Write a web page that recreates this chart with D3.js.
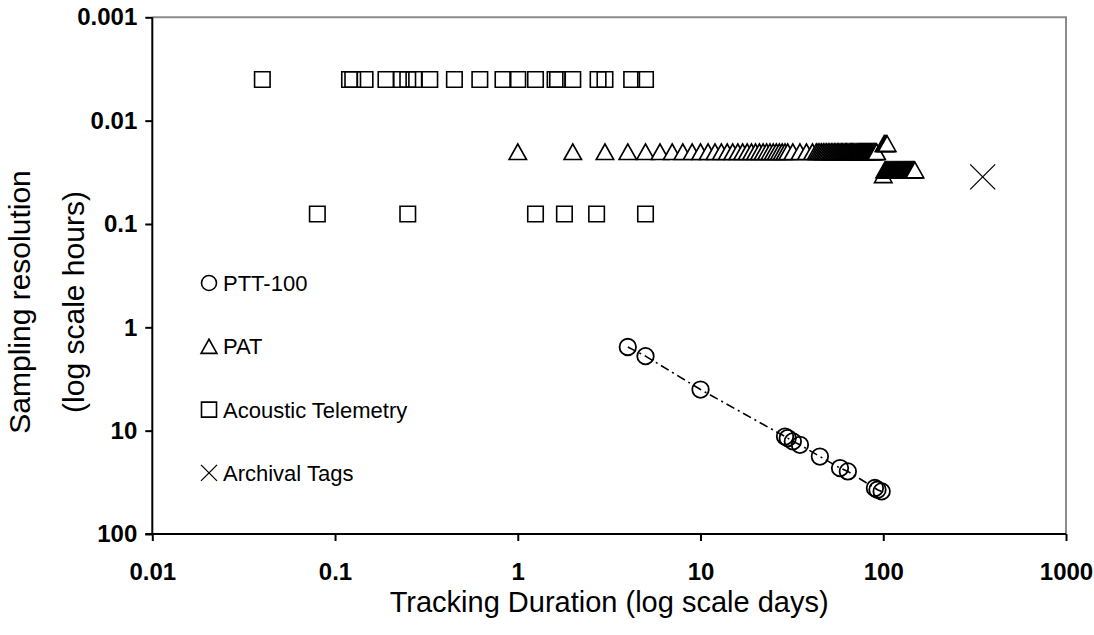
<!DOCTYPE html>
<html>
<head>
<meta charset="utf-8">
<script src="https://cdn.jsdelivr.net/npm/d3@7"></script>
<style>
  html, body { margin: 0; padding: 0; background: #fff; }
  svg { display: block; }
  text { font-family: "Liberation Sans", Arial, sans-serif; fill: #000; }
</style>
</head>
<body>
<svg id="chart" width="1094" height="635"></svg>
<script>
// Axis ticks
const durationTicks = [0.01, 0.1, 1, 10, 100, 1000];
const durationTickLabels = ["0.01", "0.1", "1", "10", "100", "1000"];
const resolutionTicks = [0.001, 0.01, 0.1, 1, 10, 100];
const resolutionTickLabels = ["0.001", "0.01", "0.1", "1", "10", "100"];

// PTT-100 satellite tags: duration (days) vs sampling resolution (hours)
const pttDays  = [4, 5, 10, 29, 30, 32, 35, 45, 58, 64, 90, 93, 98];
const pttHours = [1.55, 1.9, 4, 11.4, 11.8, 12.7, 13.7, 17.8, 23, 24.8, 35.9, 37.3, 38.7];

// PAT tags, one group per sampling interval
const patDaysA = [1, 2, 3, 4, 5, 6, 7, 8, 9, 10, 11, 12, 13, 14, 15, 16, 17, 18, 19, 20,
  21, 22, 23, 24, 25, 26, 27, 28, 29, 30, 32, 35, 38, 41, 43, 44, 45, 46, 47, 48, 49, 50,
  51, 52, 53, 54, 55, 56, 57, 58, 59, 60, 61, 62, 63, 64, 65, 66, 67, 68, 69, 70,
  71, 72, 73, 74, 75, 76, 77, 78, 79, 80, 81, 82, 83, 84, 85, 86, 87, 88, 89, 90, 91, 92];
const patHoursA = 0.02;
const patDaysB = [101, 102, 103, 104, 105];
const patHoursB = 0.0167;
const patDaysC = [100];
const patHoursC = 0.0335;
const patDaysD = [102, 103, 104, 105, 106, 107, 108, 109, 110, 111, 112, 113, 114, 115,
  116, 117, 118, 119, 120, 121, 122, 123, 124, 125, 126, 127, 128, 129, 130, 131, 132,
  133, 134, 135, 136, 137, 138, 139, 140, 141, 142, 143, 144, 145, 146, 147, 148, 149];
const patHoursD = 0.03;

// Acoustic telemetry
const acousticDaysFast = [0.04, 0.12, 0.125, 0.146, 0.19, 0.23, 0.25, 0.27, 0.33, 0.45,
  0.62, 0.83, 1, 1.25, 1.6, 1.65, 2, 2.75, 3, 4.2, 5];
const acousticHoursFast = 0.004;
const acousticDaysSlow = [0.08, 0.25, 1.25, 1.8, 2.7, 5];
const acousticHoursSlow = 0.08;

// Archival tags
const archivalDays = [350];
const archivalHours = [0.035];

// Legend
const legendNames = ["PTT-100", "PAT", "Acoustic Telemetry", "Archival Tags"];
const legendShapes = ["circle", "triangle", "square", "cross"];

const svg = d3.select("#chart");
svg.append("rect").attr("width", 1094).attr("height", 635).attr("fill", "#fff");

const plot = { left: 152.3, right: 1066, top: 17.3, bottom: 534 };
const x = d3.scaleLog().domain([0.01, 1000]).range([plot.left, plot.right]);
const y = d3.scaleLog().domain([0.001, 100]).range([plot.top, plot.bottom]);

// Marker shapes
function shapePath(kind, s) {
  if (kind === "triangle") {
    const w = s * 1.06, h = s * 0.94;
    return `M0,${-h / 2}L${w / 2},${h / 2}L${-w / 2},${h / 2}Z`;
  }
  if (kind === "square") {
    const h = s / 2;
    return `M${-h},${-h}H${h}V${h}H${-h}Z`;
  }
  if (kind === "cross") {
    const h = s / 2;
    return `M${-h},${-h}L${h},${h}M${h},${-h}L${-h},${h}`;
  }
  return d3.arc()({ innerRadius: 0, outerRadius: s / 2, startAngle: 0, endAngle: 2 * Math.PI });
}

// Plot area frame (gray top and right edges)
svg.append("path")
  .attr("d", `M${plot.left},${plot.top}H${plot.right}V${plot.bottom}`)
  .attr("fill", "none").attr("stroke", "#8c8c8c").attr("stroke-width", 2);

// PTT-100 dash-dot trend line and circles
const pttPts = pttDays.map((d, i) => [d, pttHours[i]]);
svg.append("path")
  .datum(pttPts)
  .attr("d", d3.line().x(d => x(d[0])).y(d => y(d[1])))
  .attr("fill", "none").attr("stroke", "#000").attr("stroke-width", 1.6)
  .attr("stroke-dasharray", "9,4,2,4");
svg.append("g").selectAll("path").data(pttPts).join("path")
  .attr("transform", d => `translate(${x(d[0])},${y(d[1])})`)
  .attr("d", shapePath("circle", 16.5))
  .attr("fill", "none").attr("stroke", "#000").attr("stroke-width", 1.8);

// PAT triangles
const patPts = [].concat(
  patDaysA.map(d => [d, patHoursA]),
  patDaysB.map(d => [d, patHoursB]),
  patDaysC.map(d => [d, patHoursC]),
  patDaysD.map(d => [d, patHoursD])
);
svg.append("g").selectAll("path").data(patPts).join("path")
  .attr("transform", d => `translate(${x(d[0])},${y(d[1])})`)
  .attr("d", shapePath("triangle", 16.5))
  .attr("fill", "#fff").attr("stroke", "#000").attr("stroke-width", 1.6)
  .attr("stroke-linejoin", "miter");

// Acoustic telemetry squares
const acousticPts = [].concat(
  acousticDaysFast.map(d => [d, acousticHoursFast]),
  acousticDaysSlow.map(d => [d, acousticHoursSlow])
);
svg.append("g").selectAll("path").data(acousticPts).join("path")
  .attr("transform", d => `translate(${x(d[0])},${y(d[1])})`)
  .attr("d", shapePath("square", 15.5))
  .attr("fill", "none").attr("stroke", "#000").attr("stroke-width", 1.6);

// Archival tags crosses
svg.append("g").selectAll("path").data(archivalDays.map((d, i) => [d, archivalHours[i]])).join("path")
  .attr("transform", d => `translate(${x(d[0])},${y(d[1])})`)
  .attr("d", shapePath("cross", 25))
  .attr("fill", "none").attr("stroke", "#000").attr("stroke-width", 1.3);

// Axes
const xAxis = d3.axisBottom(x).tickValues(durationTicks)
  .tickFormat((d, i) => durationTickLabels[i]).tickSize(7).tickPadding(22);
const yAxis = d3.axisLeft(y).tickValues(resolutionTicks)
  .tickFormat((d, i) => resolutionTickLabels[i]).tickSize(7).tickPadding(8);

const gx = svg.append("g").attr("transform", `translate(0,${plot.bottom})`).call(xAxis);
const gy = svg.append("g").attr("transform", `translate(${plot.left},0)`).call(yAxis);
[gx, gy].forEach(g => {
  g.select(".domain").attr("stroke", "#000").attr("stroke-width", 2)
    .attr("d", g === gx ? `M${plot.left - 7},0H${plot.right}` : `M0,${plot.top}V${plot.bottom}`);
  g.selectAll(".tick line").attr("stroke", "#000").attr("stroke-width", 2);
  g.selectAll(".tick text")
    .style("font-family", '"Liberation Sans", Arial, sans-serif')
    .style("font-weight", "bold").style("font-size", "24px").attr("fill", "#000");
});

// Axis titles
svg.append("text")
  .attr("x", (plot.left + plot.right) / 2).attr("y", 612)
  .attr("text-anchor", "middle").style("font-size", "29px")
  .text("Tracking Duration (log scale days)");
const yTitle = svg.append("text")
  .attr("transform", "translate(0,302) rotate(-90)")
  .attr("text-anchor", "middle").style("font-size", "30px");
yTitle.append("tspan").attr("x", 0).attr("y", 30).text("Sampling resolution");
yTitle.append("tspan").attr("x", 0).attr("y", 84).text("(log scale hours)");

// Legend
const legend = svg.append("g").attr("transform", "translate(209,283)");
legendNames.forEach((name, i) => {
  const row = legend.append("g").attr("transform", `translate(0,${i * 63.3})`);
  const kind = legendShapes[i];
  row.append("path")
    .attr("d", shapePath(kind, kind === "cross" ? 16 : 15))
    .attr("fill", "none").attr("stroke", "#000")
    .attr("stroke-width", kind === "cross" ? 1.3 : 1.6);
  row.append("text").attr("x", 14).attr("y", 8)
    .style("font-size", "22px").text(name);
});
</script>
</body>
</html>
